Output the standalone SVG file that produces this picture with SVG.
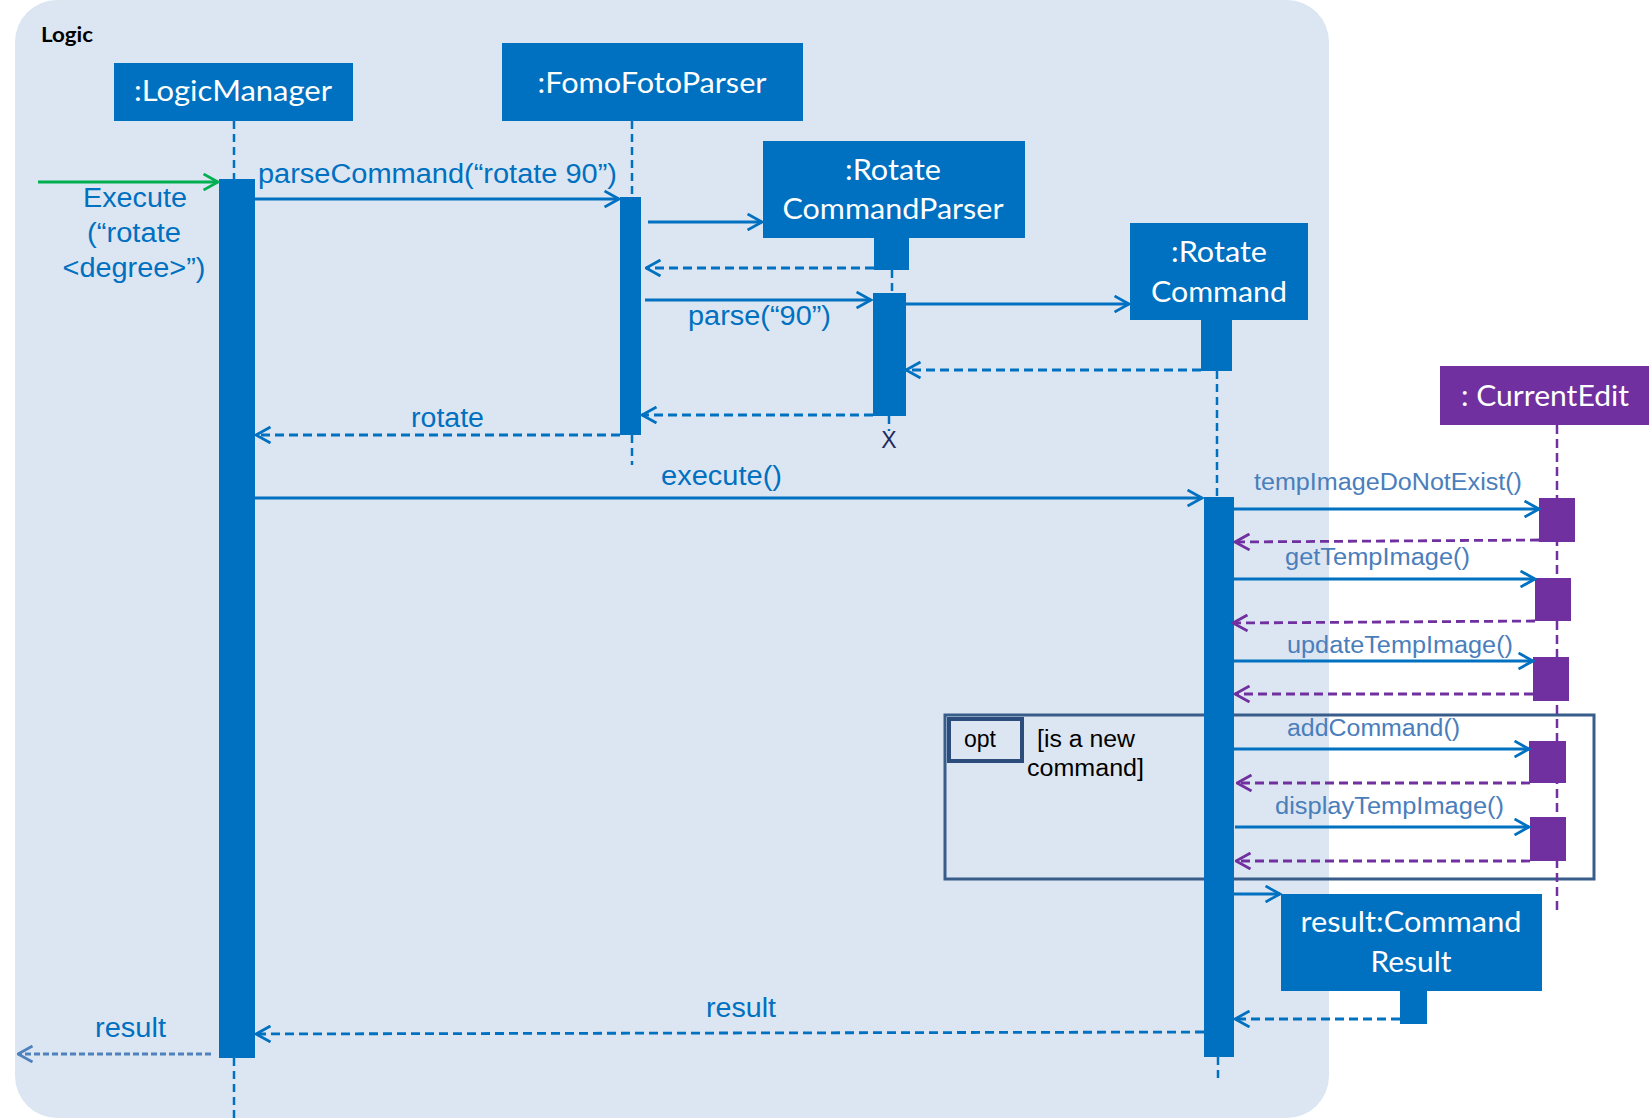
<svg xmlns="http://www.w3.org/2000/svg" width="1649" height="1120" viewBox="0 0 1649 1120">
<defs>
<style>
.bg{fill:#DCE6F2}
.box{fill:#0070C0}
.pbox{fill:#7030A0}
.nl{font-family:Lato,"Liberation Sans",sans-serif;font-size:29px;fill:#FFFFFF;text-anchor:middle}
.ml{font-family:"Liberation Sans",Arial,sans-serif;font-size:27px;fill:#0070C0}
.cl{font-family:"Liberation Sans",Arial,sans-serif;font-size:23px;fill:#4A7EBB}
.bl{font-family:"Liberation Sans",Arial,sans-serif;font-size:23px;fill:#000000}
.life{stroke:#0070C0;stroke-width:2.5;stroke-dasharray:8 5;fill:none}
.plife{stroke:#7030A0;stroke-width:2.5;stroke-dasharray:9 5;fill:none}
.sync{stroke:#0070C0;stroke-width:2.8;fill:none;marker-end:url(#ab)}
.ret{stroke:#0070C0;stroke-width:2.8;stroke-dasharray:9 5;fill:none;marker-end:url(#ab)}
.pret{stroke:#7030A0;stroke-width:2.8;stroke-dasharray:9 5;fill:none;marker-end:url(#ap)}
</style>
<marker id="ab" viewBox="0 0 17 18" refX="15.5" refY="9" markerWidth="17" markerHeight="18" markerUnits="userSpaceOnUse" orient="auto"><path d="M1,1 L15.5,9 L1,17" fill="none" stroke="#0070C0" stroke-width="2.8"/></marker>
<marker id="ap" viewBox="0 0 17 18" refX="15.5" refY="9" markerWidth="17" markerHeight="18" markerUnits="userSpaceOnUse" orient="auto"><path d="M1,1 L15.5,9 L1,17" fill="none" stroke="#7030A0" stroke-width="2.8"/></marker>
<marker id="ag" viewBox="0 0 17 18" refX="15.5" refY="9" markerWidth="17" markerHeight="18" markerUnits="userSpaceOnUse" orient="auto"><path d="M1,1 L15.5,9 L1,17" fill="none" stroke="#00B050" stroke-width="2.8"/></marker>
<marker id="al" viewBox="0 0 17 18" refX="15.5" refY="9" markerWidth="17" markerHeight="18" markerUnits="userSpaceOnUse" orient="auto"><path d="M1,1 L15.5,9 L1,17" fill="none" stroke="#4F81BD" stroke-width="2.8"/></marker>
</defs>
<rect width="1649" height="1120" fill="#FFFFFF"/>
<g id="logic-frame">
<rect class="bg" x="15" y="0" width="1314" height="1118" rx="42" ry="42"/>
<text x="41" y="42" font-family="Lato,'Liberation Sans',sans-serif" font-weight="bold" font-size="20" fill="#000000" textLength="52" lengthAdjust="spacingAndGlyphs">Logic</text>
</g>
<g id="opt-frame">
<rect x="945" y="715" width="649" height="164" fill="none" stroke="#385D8A" stroke-width="3"/>
<rect x="949" y="719" width="73" height="42" fill="none" stroke="#2C4C7C" stroke-width="4"/>
<text class="bl" x="964" y="747" textLength="32" lengthAdjust="spacingAndGlyphs">opt</text>
<text class="bl" x="1037" y="747" textLength="98" lengthAdjust="spacingAndGlyphs">[is a new</text>
<text class="bl" x="1027" y="776" textLength="117" lengthAdjust="spacingAndGlyphs">command]</text>
</g>
<g id="lifelines">
<path class="life" d="M234,121 V179 M234,1058 V1118"/>
<path class="life" d="M632,121 V197 M632,435 V465"/>
<path class="life" d="M892,270 V293 M889,416 V431"/>
<path class="life" d="M1217,371 V497 M1218,1057 V1082"/>
<path class="plife" d="M1557,425 V913"/>
</g>
<g id="LogicManager">
<rect class="box" x="114" y="63" width="239" height="58"/>
<text class="nl" x="233" y="101" textLength="198" lengthAdjust="spacingAndGlyphs">:LogicManager</text>
<rect class="box" x="219" y="179" width="36" height="879"/>
</g>
<g id="FomoFotoParser">
<rect class="box" x="502" y="43" width="301" height="78"/>
<text class="nl" x="652" y="93" textLength="229" lengthAdjust="spacingAndGlyphs">:FomoFotoParser</text>
<rect class="box" x="620" y="197" width="21" height="238"/>
</g>
<g id="RotateCommandParser">
<rect class="box" x="763" y="141" width="262" height="97"/>
<text class="nl" x="893" y="180" textLength="96" lengthAdjust="spacingAndGlyphs">:Rotate</text>
<text class="nl" x="893" y="219" textLength="221" lengthAdjust="spacingAndGlyphs">CommandParser</text>
<rect class="box" x="874" y="238" width="35" height="32"/>
<rect class="box" x="873" y="293" width="33" height="123"/>
<text x="889" y="448" font-family="'Liberation Sans',Arial,sans-serif" font-size="23" fill="#1F2A5C" text-anchor="middle">X</text>
</g>
<g id="RotateCommand">
<rect class="box" x="1130" y="223" width="178" height="97"/>
<text class="nl" x="1219" y="262" textLength="96" lengthAdjust="spacingAndGlyphs">:Rotate</text>
<text class="nl" x="1219" y="302" textLength="136" lengthAdjust="spacingAndGlyphs">Command</text>
<rect class="box" x="1201" y="320" width="31" height="51"/>
<rect class="box" x="1204" y="497" width="30" height="560"/>
</g>
<g id="CurrentEdit">
<rect class="pbox" x="1440" y="366" width="209" height="59"/>
<text class="nl" x="1545" y="406" textLength="168" lengthAdjust="spacingAndGlyphs">: CurrentEdit</text>
<rect class="pbox" x="1539" y="498" width="36" height="44"/>
<rect class="pbox" x="1535" y="578" width="36" height="43"/>
<rect class="pbox" x="1533" y="657" width="36" height="44"/>
<rect class="pbox" x="1529" y="741" width="37" height="42"/>
<rect class="pbox" x="1530" y="817" width="36" height="44"/>
</g>
<g id="CommandResult">
<rect class="box" x="1281" y="894" width="261" height="97"/>
<text class="nl" x="1411" y="932" textLength="221" lengthAdjust="spacingAndGlyphs">result:Command</text>
<text class="nl" x="1411" y="972" textLength="81" lengthAdjust="spacingAndGlyphs">Result</text>
<rect class="box" x="1400" y="991" width="27" height="33"/>
</g>
<g id="connectors">
<path d="M38,182 H218" stroke="#00B050" stroke-width="2.8" fill="none" marker-end="url(#ag)"/>
<path class="sync" d="M255,199 H619"/>
<path class="sync" d="M648,222 H762"/>
<path class="ret" d="M874,268 H646"/>
<path class="sync" d="M645,300 H871"/>
<path class="sync" d="M906,304 H1129"/>
<path class="ret" d="M1201,370 H906"/>
<path class="ret" d="M873,415 H642"/>
<path class="ret" d="M620,435 H256"/>
<path class="sync" d="M255,498 H1202"/>
<path class="sync" d="M1234,509 H1539"/>
<path class="pret" d="M1539,540 L1235,542"/>
<path class="sync" d="M1234,579 H1535"/>
<path class="pret" d="M1535,621 L1233,623"/>
<path class="sync" d="M1234,661 H1533"/>
<path class="pret" d="M1533,694 H1235"/>
<path class="sync" d="M1234,749 H1529"/>
<path class="pret" d="M1530,783 H1237"/>
<path class="sync" d="M1235,827 H1529"/>
<path class="pret" d="M1530,861 H1236"/>
<path class="sync" d="M1234,894 H1280"/>
<path class="ret" d="M1400,1019 H1235"/>
<path class="ret" d="M1204,1032 L256,1034"/>
<path d="M211,1054 H18" stroke="#4F81BD" stroke-width="2.8" stroke-dasharray="6 3" fill="none" marker-end="url(#al)"/>
<text class="ml" x="135" y="207" text-anchor="middle" textLength="104" lengthAdjust="spacingAndGlyphs">Execute</text>
<text class="ml" x="134" y="242" text-anchor="middle" textLength="94" lengthAdjust="spacingAndGlyphs">(“rotate</text>
<text class="ml" x="134" y="277" text-anchor="middle" textLength="143" lengthAdjust="spacingAndGlyphs">&lt;degree&gt;”)</text>
<text class="ml" x="258" y="183" textLength="359" lengthAdjust="spacingAndGlyphs">parseCommand(“rotate 90”)</text>
<text class="ml" x="688" y="325" textLength="143" lengthAdjust="spacingAndGlyphs">parse(“90”)</text>
<text class="ml" x="411" y="427" textLength="73" lengthAdjust="spacingAndGlyphs">rotate</text>
<text class="ml" x="661" y="485" textLength="121" lengthAdjust="spacingAndGlyphs">execute()</text>
<text class="cl" x="1254" y="490" textLength="268" lengthAdjust="spacingAndGlyphs">tempImageDoNotExist()</text>
<text class="cl" x="1285" y="565" textLength="185" lengthAdjust="spacingAndGlyphs">getTempImage()</text>
<text class="cl" x="1287" y="653" textLength="226" lengthAdjust="spacingAndGlyphs">updateTempImage()</text>
<text class="cl" x="1287" y="736" textLength="173" lengthAdjust="spacingAndGlyphs">addCommand()</text>
<text class="cl" x="1275" y="814" textLength="229" lengthAdjust="spacingAndGlyphs">displayTempImage()</text>
<text class="ml" x="706" y="1017" textLength="70" lengthAdjust="spacingAndGlyphs">result</text>
<text class="ml" x="95" y="1037" textLength="71" lengthAdjust="spacingAndGlyphs">result</text>
</g>
</svg>
